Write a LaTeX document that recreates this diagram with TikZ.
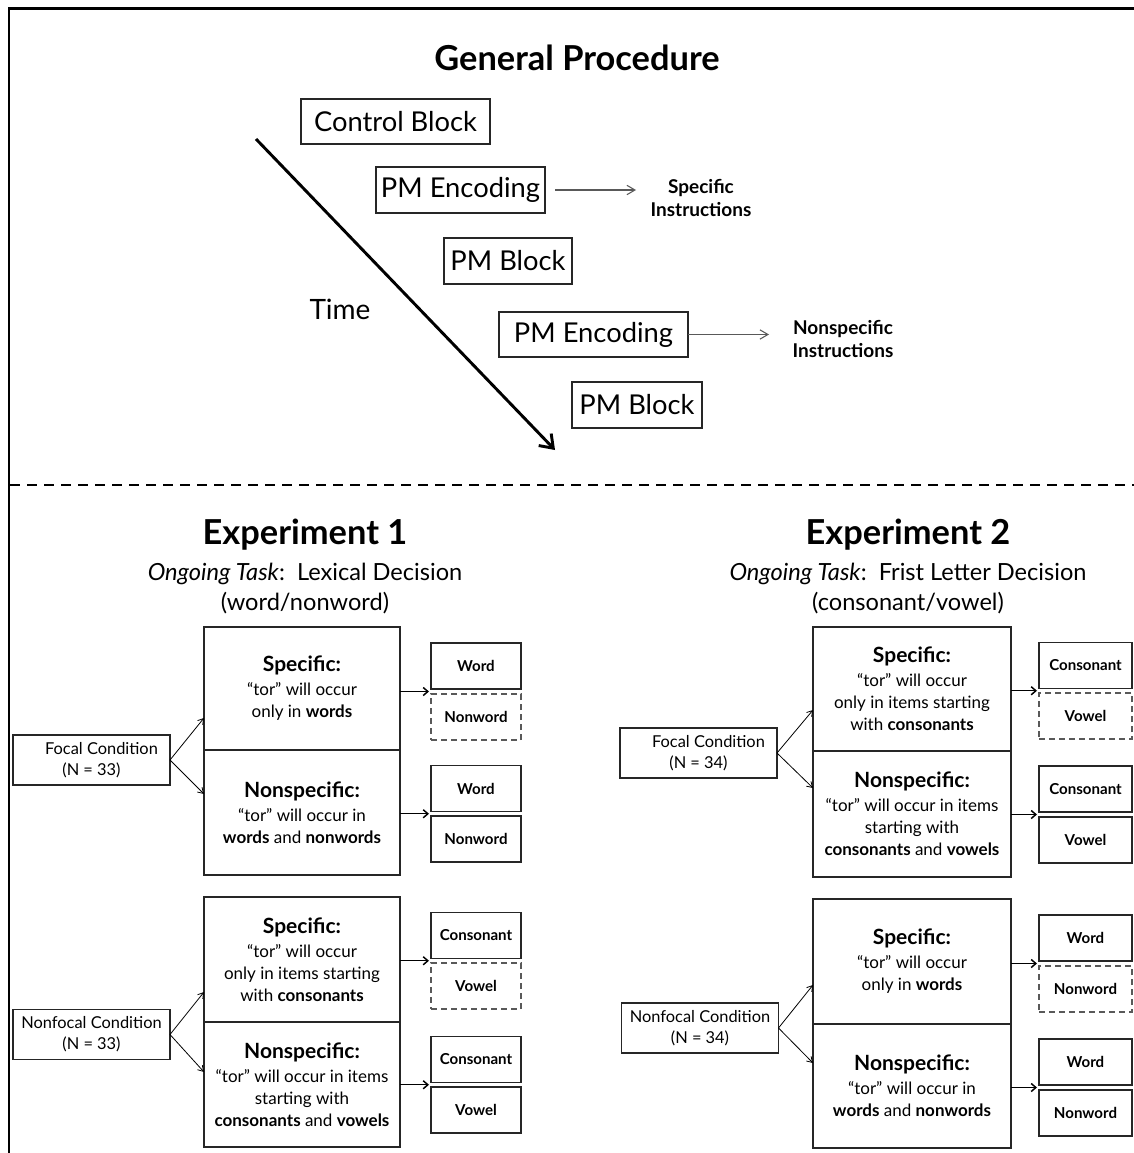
\documentclass[tikz,border=0pt]{standalone}
\usepackage{fontspec}
\setmainfont{Lato}
\usetikzlibrary{arrows.meta,calc}
\newcommand{\bxhead}[1]{{\bfseries\fontsize{15.75}{18}\selectfont #1}}
\begin{document}
\begin{tikzpicture}[x=0.75pt,y=-0.75pt,
  every node/.style={inner sep=0pt, outer sep=0pt},
  pbox/.style={draw=black!85, line width=1.5pt, font=\fontsize{20.5}{25}\selectfont},
  bigbox/.style={draw=black!85, line width=1.1pt, align=center, font=\fontsize{12.75}{16.5}\selectfont},
  smallbox/.style={draw=black!85, line width=1.1pt, minimum height=34.5pt, font=\bfseries\fontsize{11.3}{13}\selectfont},
  dashbox/.style={smallbox, draw=black!65, dash pattern=on 4.5pt off 3pt},
  condbox/.style={draw=black!85, line width=1.1pt, align=center, minimum width=117.75pt, minimum height=37.5pt, font=\fontsize{12.3}{15.75}\selectfont},
  condarrow/.style={-{Straight Barb[length=4pt,width=5pt]}, line width=0.6pt},
  objarrow/.style={-{Straight Barb[length=3.5pt,width=6pt]}, line width=1.1pt},
  instrarrow/.style={-{Straight Barb[length=6pt,width=7pt]}, line width=0.8pt, draw=black!65},
  timearrow/.style={-{Straight Barb[length=9pt,width=13pt]}, line width=2.2pt},
  instr/.style={align=center, font=\bfseries\fontsize{14.25}{17.25}\selectfont},
  exptitle/.style={anchor=base, font=\bfseries\fontsize{25.8}{30}\selectfont},
  expsub/.style={anchor=base, font=\fontsize{17.7}{21}\selectfont},
]
\useasboundingbox (0,0) rectangle (1134,1153);
% frame and separator
\draw[line width=1.9pt] (9,1153) -- (9,8.5) -- (1134,8.5);
\draw[line width=1.6pt, dash pattern=on 7.5pt off 5.25pt] (10,485) -- (1134,485);

% ---------- General procedure ----------
\node[anchor=base, font=\bfseries\fontsize{25.8}{30}\selectfont] (gp) at (577,70) {General Procedure};
\node[pbox, minimum width=141.75pt, minimum height=33.75pt] (cb) at (395.5,121.5) {Control Block};
\node[pbox, minimum width=126.75pt, minimum height=34.5pt] (enc1) at (460.5,190) {PM Encoding};
\node[pbox, minimum width=96pt, minimum height=34.5pt] (pmb1) at (508,261) {PM Block};
\node[pbox, minimum width=141.75pt, minimum height=33.75pt] (enc2) at (593.5,334.5) {PM Encoding};
\node[pbox, minimum width=97.5pt, minimum height=34.5pt] (pmb2) at (637,405) {PM Block};
\coordinate (t0) at (256,139);
\coordinate (t1) at (555,450);
\draw[timearrow] (t0) -- (t1);
\node[anchor=base, font=\fontsize{21}{25}\selectfont] (time) at (340,319) {Time};
\node[instr] (si) at (701,198) {Specific\\Instructions};
\coordinate (sa) at (636,190);
\draw[instrarrow, shorten <=7.5pt] (enc1.east) -- (sa);
\node[instr] (ni) at (843,339) {Nonspecific\\Instructions};
\coordinate (na) at (769,334.5);
\draw[instrarrow] (enc2.east) -- (na);

% ---------- Experiment 1 ----------
\node[exptitle] (x1) at (305,544) {Experiment 1};
\node[expsub] (x1t) at (305,580) {\textit{Ongoing Task}:\ \ Lexical Decision};
\node[expsub] (x1s) at (305,610) {(word/nonword)};

\node[bigbox, minimum width=147pt, minimum height=92.25pt] (e1fs) at (302,688.5)
  {\bxhead{Specific:}\\[1.5pt] “tor” will occur\\ only in \textbf{words}};
\node[bigbox, minimum width=147pt, minimum height=93.75pt] (e1fn) at (302,812.5)
  {\bxhead{Nonspecific:}\\[1.5pt] “tor” will occur in\\ \textbf{words} and \textbf{nonwords}};
\node[condbox] (e1fc) at (91.5,760) {\hspace*{15pt}Focal Condition\\ (N = 33)};
\draw[condarrow] (e1fc.east) -- ([yshift=-22.1pt]e1fs.west);
\draw[condarrow] (e1fc.east) -- ([yshift=13.9pt]e1fn.west);
\node[smallbox, minimum width=67.5pt] (e1w1) at (476,666) {Word};
\node[dashbox, minimum width=67.5pt] (e1n1) at (476,717) {Nonword};
\node[smallbox, minimum width=67.5pt] (e1w2) at (476,788.5) {Word};
\node[smallbox, minimum width=67.5pt] (e1n2) at (476,839) {Nonword};
\coordinate (j1) at ($(e1w1.south west)!0.5!(e1n1.north west)+(-2,0)$);
\coordinate (j2) at ($(e1w2.south west)!0.5!(e1n2.north west)+(-2,0)$);
\draw[objarrow] (e1fs.east |- j1) -- (j1);
\draw[objarrow] (e1fn.east |- j2) -- (j2);

\node[bigbox, minimum width=147pt, minimum height=93.75pt] (e1ns) at (302,959.5)
  {\bxhead{Specific:}\\[1.5pt] “tor” will occur\\ only in items starting\\ with \textbf{consonants}};
\node[bigbox, minimum width=147pt, minimum height=93.75pt] (e1nn) at (302,1084.5)
  {\bxhead{Nonspecific:}\\[1.5pt] “tor” will occur in items\\ starting with\\ \textbf{consonants} and \textbf{vowels}};
\node[condbox] (e1nc) at (91.5,1034.5) {Nonfocal Condition\\ (N = 33)};
\draw[condarrow] (e1nc.east) -- ([yshift=-24.4pt]e1ns.west);
\draw[condarrow] (e1nc.east) -- ([yshift=9.4pt]e1nn.west);
\node[smallbox, minimum width=67.5pt] (e1c1) at (476,935.5) {Consonant};
\node[dashbox, minimum width=67.5pt] (e1v1) at (476,986) {Vowel};
\node[smallbox, minimum width=67.5pt] (e1c2) at (476,1059.5) {Consonant};
\node[smallbox, minimum width=67.5pt] (e1v2) at (476,1110) {Vowel};
\coordinate (j3) at ($(e1c1.south west)!0.5!(e1v1.north west)+(-2,0)$);
\coordinate (j4) at ($(e1c2.south west)!0.5!(e1v2.north west)+(-2,0)$);
\draw[objarrow] (e1ns.east |- j3) -- (j3);
\draw[objarrow] (e1nn.east |- j4) -- (j4);

% ---------- Experiment 2 ----------
\node[exptitle] (x2) at (908,544) {Experiment 2};
\node[expsub] (x2t) at (908,580) {\textit{Ongoing Task}:\ \ Frist Letter Decision};
\node[expsub] (x2s) at (908,610) {(consonant/vowel)};

\node[bigbox, minimum width=148.5pt, minimum height=93pt] (e2fs) at (912,689)
  {\bxhead{Specific:}\\[1.5pt] “tor” will occur\\ only in items starting\\ with \textbf{consonants}};
\node[bigbox, minimum width=148.5pt, minimum height=94.5pt] (e2fn) at (912,814)
  {\bxhead{Nonspecific:}\\[1.5pt] “tor” will occur in items\\ starting with\\ \textbf{consonants} and \textbf{vowels}};
\node[condbox] (e2fc) at (698.5,753) {\hspace*{15pt}Focal Condition\\ (N = 34)};
\draw[condarrow] (e2fc.east) -- ([yshift=-15.75pt]e2fs.west);
\draw[condarrow] (e2fc.east) -- ([yshift=19.5pt]e2fn.west);
\node[smallbox, minimum width=69.75pt] (e2c1) at (1085.5,665.5) {Consonant};
\node[dashbox, minimum width=69.75pt] (e2v1) at (1085.5,716) {Vowel};
\node[smallbox, minimum width=69.75pt] (e2c2) at (1085.5,789) {Consonant};
\node[smallbox, minimum width=69.75pt] (e2v2) at (1085.5,840) {Vowel};
\coordinate (j5) at ($(e2c1.south west)!0.5!(e2v1.north west)+(-2,0)$);
\coordinate (j6) at ($(e2c2.south west)!0.5!(e2v2.north west)+(-2,0)$);
\draw[objarrow] (e2fs.east |- j5) -- (j5);
\draw[objarrow] (e2fn.east |- j6) -- (j6);

\node[bigbox, minimum width=148.5pt, minimum height=93.75pt] (e2ns) at (912,961.5)
  {\bxhead{Specific:}\\[1.5pt] “tor” will occur\\ only in \textbf{words}};
\node[bigbox, minimum width=148.5pt, minimum height=93pt] (e2nn) at (912,1086)
  {\bxhead{Nonspecific:}\\[1.5pt] “tor” will occur in\\ \textbf{words} and \textbf{nonwords}};
\node[condbox] (e2nc) at (700,1028) {Nonfocal Condition\\ (N = 34)};
\draw[condarrow] (e2nc.east) -- ([yshift=-17.6pt]e2ns.west);
\draw[condarrow] (e2nc.east) -- ([yshift=17.25pt]e2nn.west);
\node[smallbox, minimum width=69.75pt] (e2w1) at (1085.5,938) {Word};
\node[dashbox, minimum width=69.75pt] (e2n1) at (1085.5,989) {Nonword};
\node[smallbox, minimum width=69.75pt] (e2w2) at (1085.5,1062) {Word};
\node[smallbox, minimum width=69.75pt] (e2n2) at (1085.5,1113) {Nonword};
\coordinate (j7) at ($(e2w1.south west)!0.5!(e2n1.north west)+(-2,0)$);
\coordinate (j8) at ($(e2w2.south west)!0.5!(e2n2.north west)+(-2,0)$);
\draw[objarrow] (e2ns.east |- j7) -- (j7);
\draw[objarrow] (e2nn.east |- j8) -- (j8);
\end{tikzpicture}
\end{document}
